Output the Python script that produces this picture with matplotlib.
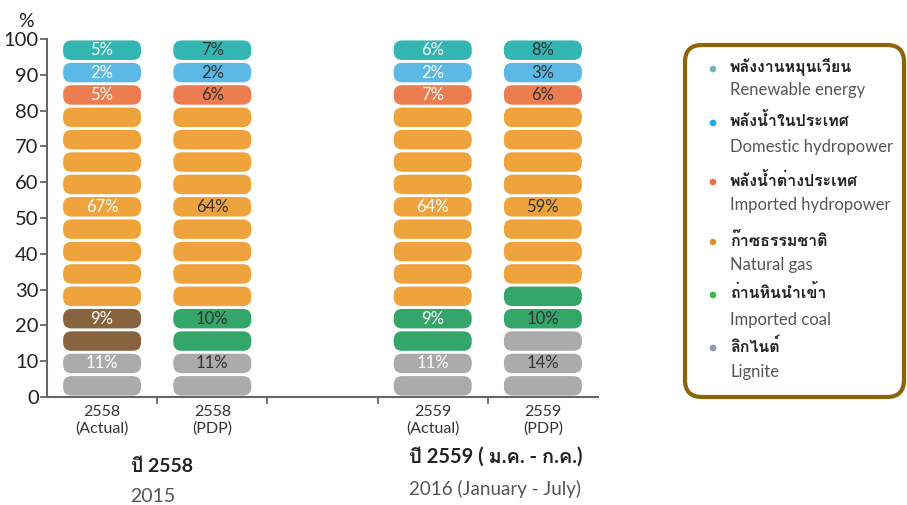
import matplotlib
matplotlib.use("Agg")
import matplotlib.pyplot as plt
from matplotlib import font_manager
from matplotlib.ft2font import FT2Font
from matplotlib.patches import FancyBboxPatch, Circle

# ---- data ----
categories = ['2558\n(Actual)', '2558\n(PDP)', '', '2559\n(Actual)', '2559\n(PDP)']
bar_slots = [0, 1, 3, 4]            # slot 2 is the empty gap between the years

fuels_th = ['ลิกไนต์', 'ถ่านหินนำเข้า', 'ก๊าซธรรมชาติ',
            'พลังน้ำต่างประเทศ', 'พลังน้ำในประเทศ', 'พลังงานหมุนเวียน']
fuels_en = ['Lignite', 'Imported coal', 'Natural gas',
            'Imported hydropower', 'Domestic hydropower', 'Renewable energy']

# number of pills (each = 1/16 of the bar) per fuel, bottom to top
lignite_blocks = [2, 2, 2, 3]
coal_blocks = [2, 2, 2, 2]
gas_blocks = [9, 9, 9, 8]
imp_hydro_blocks = [1, 1, 1, 1]
dom_hydro_blocks = [1, 1, 1, 1]
renew_blocks = [1, 1, 1, 1]

# share labels in percent
lignite_pct = [11, 11, 11, 14]
coal_pct = [9, 10, 9, 10]
gas_pct = [67, 64, 64, 59]
imp_hydro_pct = [5, 6, 7, 6]
dom_hydro_pct = [2, 2, 2, 3]
renew_pct = [5, 7, 6, 8]

blocks = [lignite_blocks, coal_blocks, gas_blocks, imp_hydro_blocks, dom_hydro_blocks, renew_blocks]
pcts = [lignite_pct, coal_pct, gas_pct, imp_hydro_pct, dom_hydro_pct, renew_pct]

# ---- styling ----
fill_colors = ['#ABABAB', '#34A66A', '#EEA33D', '#EC7D50', '#5CB8E4', '#33B6B1']
coal_colors = ['#876340', '#34A66A', '#34A66A', '#34A66A']   # 2558 actual drawn in brown
dot_colors = ['#8E9AA6', '#3DB54A', '#D9952C', '#EC6E4A', '#1BA9E9', '#6DB9B1']
label_colors = ['white', '#333333', 'white', '#333333']
label_row = [1, 3, 8, 13, 14, 15]   # pill that carries the label for each fuel

# pick a font that has Thai glyphs
thai_font = None
for f in font_manager.fontManager.ttflist:
    try:
        cmap = FT2Font(f.fname).get_charmap()
    except Exception:
        continue
    if 0x0E1E in cmap and 0x0E25 in cmap:
        thai_font = f.name
        if 'Looped' not in f.name and 'UI' not in f.name:
            break
families = ['Lato']
if thai_font:
    families.append(thai_font)
families.append('DejaVu Sans')
plt.rcParams['font.family'] = families

W, H = 907, 505
fig = plt.figure(figsize=(W / 100, H / 100), dpi=100)
ax = fig.add_axes([47 / W, (H - 397) / H, 551 / W, 358 / H])
ax.set_xlim(-0.5, 4.5)
ax.set_ylim(0, 100)

fig.canvas.draw()
px_x = ax.bbox.width / 5.0
px_y = ax.bbox.height / 100.0
unit = 100.0 / 16
gap = 0.8
bw = 78 / px_x
r = 8.5 / px_x
aspect = px_x / px_y

for j, slot in enumerate(bar_slots):
    start = 0
    for k in range(len(blocks)):
        n = blocks[k][j]
        col = coal_colors[j] if k == 1 else fill_colors[k]
        for i in range(start, start + n):
            y0 = i * unit + gap / 2
            box = FancyBboxPatch((slot - bw / 2, y0), bw, unit - gap,
                                 boxstyle='round,pad=0,rounding_size=%f' % r,
                                 mutation_aspect=aspect, fc=col, ec='none',
                                 clip_on=False)
            ax.add_patch(box)
        ax.text(slot, label_row[k] * unit + unit / 2, '%d%%' % pcts[k][j],
                ha='center', va='center', fontsize=12, color=label_colors[j])
        start += n

ax.set_yticks(range(0, 101, 10))
ax.tick_params(axis='y', labelsize=14.5, labelcolor='#222222', length=5, width=1.3,
               color='#666666', pad=1)
ax.set_xticks(range(len(categories)))
ax.set_xticklabels(categories, fontsize=11.5, color='#333333', linespacing=1.15)
ax.set_xticks([0.5, 1.5, 2.5, 3.5], minor=True)
ax.tick_params(axis='x', which='major', length=0, pad=6)
ax.tick_params(axis='x', which='minor', length=5, width=1.3, color='#666666')
for s in ['top', 'right']:
    ax.spines[s].set_visible(False)
for s in ['left', 'bottom']:
    ax.spines[s].set_color('#666666')
    ax.spines[s].set_linewidth(1.5)
ax.text(-0.69, 104.8, '%', ha='center', va='center', fontsize=14, color='#222222',
        clip_on=False)

# overlay in pixel units for group captions and the legend
ov = fig.add_axes([0, 0, 1, 1])
ov.set_xlim(0, W)
ov.set_ylim(H, 0)
ov.axis('off')
ov.patch.set_alpha(0)

ov.text(162, 467, 'ปี 2558', ha='center', va='center', fontsize=14,
        fontweight='bold', color='#222222')
ov.text(153, 497, '2015', ha='center', va='center', fontsize=14, color='#555555')
ov.text(496, 457, 'ปี 2559 ( ม.ค. - ก.ค.)', ha='center', va='center', fontsize=14.5,
        fontweight='bold', color='#222222')
ov.text(495, 489, '2016 (January - July)', ha='center', va='center', fontsize=13.5,
        color='#555555')

frame = FancyBboxPatch((685, 45), 219, 352, boxstyle='round,pad=0,rounding_size=17',
                       fc='white', ec='#8B6508', lw=3.0)
ov.add_patch(frame)

row_th = [346, 293, 240, 180, 121, 67]
row_en = [372, 320, 265, 205, 147, 90]
for k in range(len(fuels_th)):
    ov.add_patch(Circle((713, row_th[k] + 2), 2.6, color=dot_colors[k]))
    ov.text(730, row_th[k], fuels_th[k], ha='left', va='center', fontsize=11.5,
            fontweight='bold', color='#222222')
    ov.text(730, row_en[k], fuels_en[k], ha='left', va='center', fontsize=12,
            color='#555555')

fig.savefig('out.png', dpi=100)
